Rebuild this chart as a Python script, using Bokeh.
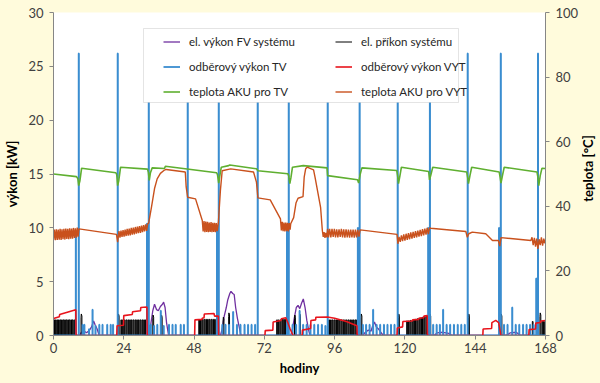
import math
from bokeh.plotting import figure
from bokeh.layouts import row
from bokeh.models import (Range1d, LinearAxis, FixedTicker, Legend, LegendItem,
                          BoxAnnotation, Label)
from bokeh.embed import file_html
from bokeh.resources import INLINE

# ---------------- data ----------------
hour_ticks = [0, 24, 48, 72, 96, 120, 144, 168]
kw_ticks = [0, 5, 10, 15, 20, 25, 30]
temp_ticks = [0, 20, 40, 60, 80, 100]

# odběrový výkon TV: spikes (hour, kW)
tv_peak = [(8.6, 26.2), (21.9, 26.2), (32.5, 26.2), (45.8, 26.2), (56.4, 26.2), (69.7, 26.2),
           (80.3, 26.2), (93.6, 26.2), (104.5, 26.2), (117.5, 26.2), (128.5, 26.2),
           (141.4, 26.2), (152.7, 26.2), (165.4, 26.2)]
tv_pair = [(7.6, 9.5), (31.9, 10.4), (55.8, 9.8), (79.7, 10.0), (103.9, 10.0),
           (127.9, 10.0), (152.1, 10.0), (164.8, 5.3)]
tv_small = [(9.9, 1.0), (10.5, 1.0), (12.1, 0.6), (13.3, 2.4), (14.3, 0.9), (15.6, 1.0),
            (16.7, 1.0), (18.3, 1.0), (19.5, 1.0), (20.3, 1.0),
            (33.2, 1.0), (34.3, 0.9), (35.4, 1.0), (36.6, 2.3), (37.6, 0.9), (39.4, 1.0),
            (40.6, 1.0), (41.7, 1.0), (43.4, 1.0), (44.5, 1.0),
            (57.6, 1.0), (58.7, 1.0), (59.9, 1.0), (61.3, 2.2), (62.6, 1.0), (63.8, 1.0),
            (65.2, 1.0), (66.4, 1.0), (67.6, 1.0), (68.8, 1.0),
            (81.6, 1.0), (82.8, 1.0), (84.0, 2.3), (85.2, 1.0), (86.4, 1.0), (87.7, 1.0),
            (89.0, 1.0), (90.3, 1.0), (91.6, 1.0), (92.8, 0.9),
            (105.6, 1.0), (106.7, 1.0), (107.9, 1.0), (109.1, 2.4), (110.3, 1.0), (111.5, 1.0),
            (112.8, 1.0), (114.0, 1.0), (115.2, 1.0), (116.4, 1.0),
            (129.6, 1.0), (130.8, 1.0), (131.9, 1.0), (133.0, 2.4), (134.2, 1.0), (135.4, 1.0),
            (136.7, 1.0), (138.0, 1.0), (139.2, 1.0), (140.4, 1.0),
            (153.8, 1.0), (155.0, 1.0), (156.6, 2.6), (157.8, 1.0), (159.0, 1.0), (160.3, 1.0),
            (161.5, 1.0), (162.7, 1.0), (163.9, 1.0)]

# odběrový výkon VYT (hour, kW)
vyt_power = [(0.0, 1.55), (0.3, 1.6), (2.0, 1.75), (2.1, 1.95), (7.6, 2.4), (7.7, 0.0),
             (21.6, 0.0), (21.7, 0.9), (23.9, 0.95), (24.0, 1.85), (26.9, 1.95), (27.0, 2.2),
             (29.7, 2.3), (29.8, 2.6), (31.9, 2.65), (32.0, 0.0),
             (48.2, 0.0), (48.3, 1.45), (50.7, 1.5), (50.8, 1.6), (51.4, 1.65), (51.5, 2.0),
             (54.8, 2.05), (55.0, 1.8), (56.3, 1.8), (56.4, 0.0),
             (72.2, 0.0), (72.3, 0.45), (74.9, 0.5), (75.0, 1.25), (77.7, 1.4), (77.8, 1.55),
             (79.3, 1.65), (80.0, 1.2), (80.8, 0.6), (81.8, 0.0),
             (84.9, 0.0), (85.0, 0.5), (87.8, 0.65), (87.9, 1.4), (89.5, 1.45), (89.6, 1.7),
             (93.5, 1.72), (96.0, 1.6), (100.0, 1.3), (103.6, 0.9), (103.7, 0.0),
             (117.3, 0.0), (117.4, 0.7), (119.2, 0.8), (119.3, 1.3), (122.5, 1.35), (122.6, 1.45),
             (124.7, 1.5), (124.8, 1.6), (126.4, 1.65), (126.5, 1.8), (127.6, 1.85), (127.7, 0.0),
             (146.6, 0.0), (146.7, 0.6), (149.6, 0.65), (149.7, 1.2), (151.0, 1.4), (152.0, 1.2),
             (152.6, 0.3), (152.7, 0.0),
             (162.3, 0.0), (162.4, 0.55), (164.6, 0.6), (164.7, 1.15), (166.3, 1.2), (166.4, 1.35),
             (168.0, 1.4)]

# el. výkon FV systému (hour, kW)
fv_power = [(0.0, 0.0), (9.0, 0.0), (9.5, 0.3), (10.5, 0.4), (11.3, 0.25), (12.3, 0.5), (13.0, 0.8),
            (13.7, 1.35), (14.2, 1.0), (14.9, 0.6), (15.6, 0.0),
            (32.8, 0.0), (33.3, 1.2), (33.9, 2.3), (34.5, 2.9), (35.2, 2.4), (35.8, 2.3), (36.5, 2.7),
            (37.2, 2.9), (37.6, 3.1), (38.1, 2.6), (38.6, 1.2), (39.3, 0.0),
            (57.0, 0.0), (57.6, 0.6), (58.3, 1.8), (59.0, 2.6), (59.5, 3.3), (60.2, 3.9), (60.6, 4.1),
            (61.2, 3.9), (61.7, 3.8), (62.2, 2.6), (62.8, 1.6), (63.4, 0.8), (64.0, 0.0),
            (81.0, 0.0), (81.6, 0.6), (82.2, 1.6), (82.9, 2.6), (83.5, 2.8), (84.1, 2.5), (84.7, 3.0),
            (85.3, 3.4), (85.9, 2.6), (86.5, 1.4), (87.2, 0.4), (87.6, 0.0),
            (105.5, 0.0), (106.5, 0.3), (107.5, 0.5), (108.4, 0.4), (109.0, 0.9), (109.6, 1.25),
            (110.2, 0.8), (111.0, 0.6), (111.8, 0.3), (112.6, 0.0),
            (130.0, 0.0), (131.0, 0.25), (133.0, 0.3), (135.0, 0.2), (136.0, 0.0),
            (154.5, 0.0), (156.0, 0.25), (158.0, 0.3), (159.5, 0.0), (168.0, 0.0)]

# el. příkon systému: compressor pulses (hour, kW) and start spikes (hour, kW)
black_pulse = [(0.1, 1.45), (0.65, 1.45), (1.15, 1.45), (1.7, 1.45), (2.2, 1.45), (2.75, 1.45),
               (3.25, 1.45), (3.8, 1.45), (4.3, 1.45), (4.85, 1.45), (5.35, 1.45), (5.9, 1.45),
               (6.4, 1.45), (6.95, 1.45), (7.45, 1.45),
               (23.0, 1.45), (23.6, 1.45), (24.2, 1.45), (24.8, 1.45), (25.4, 1.45), (26.0, 1.45),
               (26.6, 1.45), (27.2, 1.45), (27.8, 1.45), (28.4, 1.45), (29.0, 1.45), (29.6, 1.45),
               (30.2, 1.45), (30.8, 1.45), (31.4, 1.45),
               (49.6, 1.45), (50.2, 1.45), (50.8, 1.5), (51.4, 1.5), (52.0, 1.5), (52.6, 1.5),
               (53.2, 1.5), (53.8, 1.5), (54.4, 1.5), (55.0, 1.5), (55.6, 1.45),
               (76.2, 1.45), (76.8, 1.45), (77.4, 1.45), (78.0, 1.5), (78.6, 1.5), (79.2, 1.5),
               (79.8, 1.45),
               (94.0, 1.45), (94.6, 1.45), (95.2, 1.45), (95.8, 1.45), (96.4, 1.45), (97.0, 1.45),
               (97.6, 1.45), (98.2, 1.45), (98.8, 1.45), (99.4, 1.45), (100.0, 1.45),
               (100.6, 1.45), (101.2, 1.45), (101.8, 1.45), (102.4, 1.45), (103.0, 1.45),
               (103.5, 1.45),
               (120.6, 1.35), (121.2, 1.35), (121.8, 1.4), (122.4, 1.4), (123.0, 1.45),
               (123.6, 1.5), (124.2, 1.55), (124.8, 1.6), (125.4, 1.65), (126.0, 1.7),
               (126.6, 1.75), (127.2, 1.8),
               (163.5, 1.3), (166.8, 1.3), (167.3, 1.3), (167.8, 1.3)]
black_hook = [(9.4, 2.0), (22.1, 2.0), (33.9, 1.9), (36.8, 1.9), (57.9, 1.7), (59.8, 2.1),
              (82.3, 1.9), (84.0, 2.0), (105.0, 2.0), (117.8, 2.0), (128.5, 2.0), (141.7, 2.0),
              (152.8, 2.0), (166.1, 2.1)]

# teplota AKU pro TV (hour, °C)
tv_temp = [(0.0, 50.0), (7.8, 49.2), (8.3, 48.6), (8.6, 46.4), (9.0, 47.8), (9.6, 51.8),
           (21.3, 50.4), (21.6, 49.8), (21.9, 46.4), (22.3, 48.0), (22.9, 52.1),
           (32.1, 51.5), (32.4, 50.5), (32.7, 48.0), (33.1, 50.4), (33.7, 51.9), (37.9, 51.7),
           (38.2, 52.4), (55.7, 50.4), (56.0, 49.8), (56.4, 47.2), (56.8, 49.5), (57.3, 52.1),
           (59.8, 52.6), (60.2, 52.8), (69.3, 51.6), (69.8, 51.0), (80.0, 50.1), (80.3, 49.5),
           (80.7, 47.0), (81.1, 49.0), (81.6, 52.1), (85.3, 52.6), (93.4, 51.9), (93.6, 49.5),
           (103.8, 48.2), (104.2, 47.2), (104.7, 49.8), (105.3, 51.9), (117.2, 51.1),
           (117.5, 49.5), (117.8, 47.0), (118.3, 49.5), (118.8, 52.1), (128.1, 50.8),
           (128.4, 48.2), (128.8, 49.5), (129.5, 52.1), (141.1, 50.6), (141.4, 49.0),
           (141.7, 47.0), (142.2, 49.5), (142.8, 52.1), (152.2, 50.6), (152.5, 49.0),
           (152.8, 47.2), (153.3, 49.5), (153.9, 52.1), (165.1, 50.6), (165.4, 49.0),
           (165.7, 46.4), (166.2, 49.5), (166.8, 51.8), (168.0, 51.7)]

# teplota AKU pro VYT (hour, °C)
vyt_temp = [(0.0, 29.6), (0.3, 32.8), (0.65, 29.5), (0.95, 32.9), (1.3, 29.6), (1.6, 32.8),
            (1.95, 29.7), (2.25, 33.0), (2.6, 29.6), (2.9, 32.9), (3.25, 29.8), (3.55, 33.0),
            (3.9, 29.7), (4.2, 33.1), (4.55, 29.9), (4.85, 33.0), (5.2, 29.8), (5.5, 33.2),
            (5.85, 30.0), (6.15, 33.1), (6.5, 30.0), (6.8, 33.3), (7.15, 30.2), (7.45, 33.2),
            (7.8, 30.3), (8.1, 33.4), (8.4, 30.6), (8.7, 33.0),
            (21.5, 31.3), (21.9, 28.9), (22.35, 32.3), (22.7, 30.3), (23.05, 32.5), (23.4, 30.5),
            (23.75, 32.6), (24.1, 30.6), (24.45, 32.8), (24.8, 30.8), (25.15, 33.0), (25.5, 30.9),
            (25.85, 33.1), (26.2, 31.0), (26.55, 33.3), (26.9, 31.2), (27.25, 33.4), (27.6, 31.3),
            (27.95, 33.6), (28.3, 31.5), (28.65, 33.7), (29.0, 31.7), (29.35, 33.9), (29.7, 31.8),
            (30.05, 34.0), (30.4, 32.0), (30.75, 34.2), (31.1, 32.2), (31.45, 34.4), (31.8, 32.4),
            (32.15, 34.6), (32.5, 34.8), (33.5, 40.0), (34.5, 45.5), (35.4, 48.5), (36.5, 50.2),
            (37.7, 51.1), (38.5, 51.4), (45.0, 50.6), (45.3, 46.0), (45.8, 42.8), (48.5, 42.3),
            (50.8, 35.6), (51.1, 32.2), (51.4, 35.4), (51.7, 32.0), (52.0, 35.3), (52.3, 32.1),
            (52.6, 35.2), (52.9, 32.0), (53.2, 35.0), (53.5, 32.1), (53.8, 35.1), (54.1, 32.0),
            (54.4, 34.9), (54.7, 32.1), (55.0, 34.9), (55.3, 32.0), (55.6, 34.8), (55.9, 32.3),
            (56.3, 35.0), (57.0, 45.0), (57.6, 51.0), (60.5, 51.6), (68.3, 50.6), (69.3, 47.5),
            (69.8, 42.6), (74.0, 42.0), (77.5, 36.1), (77.8, 32.5), (78.1, 35.2), (78.4, 32.3),
            (78.7, 35.0), (79.0, 32.2), (79.3, 35.0), (79.6, 32.3), (79.9, 34.9), (80.2, 32.2),
            (80.5, 34.8), (80.8, 32.8), (81.0, 34.6), (82.0, 36.5), (82.8, 41.0), (83.5, 42.5),
            (85.2, 43.0), (85.6, 49.0), (86.1, 51.6), (86.6, 52.1), (88.8, 51.3), (89.3, 49.0),
            (91.2, 39.7), (91.8, 32.5), (92.1, 30.5), (92.4, 32.0), (92.7, 30.2), (93.0, 31.8),
            (93.3, 30.4), (93.6, 33.0), (93.9, 30.4), (94.3, 33.0), (94.7, 30.4), (95.1, 33.0),
            (95.5, 30.5), (95.9, 33.0), (96.3, 30.4), (96.7, 32.9), (97.1, 30.4), (97.5, 32.9),
            (97.9, 30.5), (98.3, 33.0), (98.7, 30.4), (99.1, 32.9), (99.5, 30.3), (99.9, 32.9),
            (100.3, 30.4), (100.7, 32.8), (101.1, 30.3), (101.5, 32.8), (101.9, 30.4),
            (102.3, 32.8), (102.7, 30.3), (103.1, 32.8), (103.5, 30.4), (103.9, 32.7),
            (104.3, 30.6), (104.7, 32.7), (117.3, 31.3), (117.6, 28.4), (118.0, 30.5),
            (118.4, 29.0), (118.8, 31.0), (119.2, 29.2), (119.6, 31.3), (120.0, 29.4),
            (120.4, 31.5), (120.8, 29.6), (121.2, 31.7), (121.6, 29.8), (122.0, 31.9),
            (122.4, 30.0), (122.8, 32.1), (123.2, 30.2), (123.6, 32.3), (124.0, 30.4),
            (124.4, 32.5), (124.8, 30.6), (125.2, 32.7), (125.6, 30.8), (126.0, 32.9),
            (126.4, 31.0), (126.8, 33.1), (127.2, 31.2), (127.6, 33.3), (128.0, 31.4),
            (128.4, 33.3), (128.8, 33.2), (140.8, 32.2), (141.3, 30.4), (141.8, 31.5),
            (143.0, 32.0), (147.6, 31.5), (149.9, 29.4), (151.9, 29.4), (152.4, 27.7),
            (152.8, 30.3), (163.0, 29.4), (163.4, 30.4), (163.8, 28.0), (164.2, 30.2),
            (164.6, 27.5), (165.0, 30.0), (165.4, 26.8), (165.8, 29.8), (166.2, 28.0),
            (166.6, 30.4), (167.0, 27.8), (167.4, 30.0), (167.8, 28.5), (168.0, 29.6)]

legend_labels = ["el. výkon FV systému", "el. příkon systému",
                 "odběrový výkon TV", "odběrový výkon VYT",
                 "teplota AKU pro TV", "teplota AKU pro VYT"]
right_title = "teplota [°C]"

# ---------------- helpers ----------------
def unzip(pairs):
    return [a for a, _ in pairs], [b for _, b in pairs]

def spike_path(events, w=0.08):
    xs, ys = [0.0], [0.0]
    for t, h in sorted(events):
        xs += [t, t, t + w, t + w]
        ys += [0.0, h, h, 0.0]
    xs.append(168.0); ys.append(0.0)
    return xs, ys

def black_path(pulses, hooks, w=0.25):
    ev = []
    for t, h in pulses:
        ev.append((t, [(t, 0.0), (t, h), (t + w, h), (t + w, 0.0)]))
    for t, h in hooks:
        ev.append((t, [(t, 0.0), (t, h - 0.35), (t + 0.1, h), (t + 0.3, h - 0.2), (t + 0.32, 0.0)]))
    ev.sort(key=lambda e: e[0])
    xs, ys = [0.0], [0.0]
    for _, pts in ev:
        for a, b in pts:
            xs.append(a); ys.append(b)
    xs.append(168.0); ys.append(0.0)
    return xs, ys

# ---------------- figure ----------------
BG = "#FFFBDC"
FONT = "Lato"
AXC = "#868686"
TXT = "#404040"
FW, FH = 492, 323
TOTAL_W, TOTAL_H = 600, 383
LEFT, RIGHT, TOP = 53, 35, 12
BOTTOM = TOTAL_H - TOP - FH

p = figure(frame_width=FW, frame_height=FH, output_backend="svg", toolbar_location=None,
           x_range=Range1d(0, 168), y_range=Range1d(0, 30),
           min_border_left=LEFT, min_border_right=RIGHT, min_border_top=TOP,
           min_border_bottom=BOTTOM)
p.extra_y_ranges = {"temp": Range1d(0, 100)}
p.background_fill_color = "white"
p.border_fill_color = BG
p.outline_line_color = None
p.xgrid.visible = False
p.ygrid.visible = False

right_axis = LinearAxis(y_range_name="temp")
p.add_layout(right_axis, "right")

for ax in [p.xaxis[0], p.yaxis[0], right_axis]:
    ax.axis_line_color = AXC
    ax.major_tick_line_color = AXC
    ax.minor_tick_line_color = None
    ax.major_tick_in = 0
    ax.major_tick_out = 4
    ax.major_label_text_font = FONT
    ax.major_label_text_font_size = "13px"
    ax.major_label_text_color = TXT
    ax.major_label_standoff = 6
    ax.axis_label_text_font = FONT
    ax.axis_label_text_font_style = "bold"
    ax.axis_label_text_font_size = "13px"
    ax.axis_label_text_color = "#000000"
    ax.axis_label_standoff = 5

p.xaxis.ticker = FixedTicker(ticks=hour_ticks)
p.yaxis[0].ticker = FixedTicker(ticks=kw_ticks)
right_axis.ticker = FixedTicker(ticks=temp_ticks)
p.xaxis.axis_label = "hodiny"
p.xaxis.axis_label_standoff = 4
p.xaxis.major_label_standoff = 3
p.yaxis[0].axis_label = "výkon [kW]"
right_axis.major_label_standoff = 6

# series (drawing order as in the original: FV, příkon, TV, VYT, temps)
fx, fy = unzip(fv_power)
r_fv = p.line(fx, fy, color="#7030A0", line_width=1.3)
bx, by = black_path(black_pulse, black_hook)
r_el = p.line(bx, by, color="#000000", line_width=1.0)
tx, ty = spike_path(tv_peak + tv_pair + tv_small)
r_tv = p.line(tx, ty, color="#3A8DD0", line_width=1.8)
vx, vy = unzip(vyt_power)
r_vyt = p.line(vx, vy, color="#E8141C", line_width=1.6)
gx, gy = unzip(tv_temp)
r_ttv = p.line(gx, gy, color="#5FAF30", line_width=1.6, y_range_name="temp")
ox, oy = unzip(vyt_temp)
r_tvyt = p.line(ox, oy, color="#C9511D", line_width=1.4, y_range_name="temp")

# legend box + two legend columns
box = BoxAnnotation(left=90, right=405, top=FH - 16, bottom=FH - 90,
                    left_units="screen", right_units="screen",
                    top_units="screen", bottom_units="screen",
                    fill_color="white", fill_alpha=1.0,
                    line_color="#A6A6A6", line_width=1)
p.add_layout(box)

def make_legend(items, x):
    return Legend(items=items, location=(x, FH - 89), orientation="vertical",
                  padding=0, margin=0, spacing=6, glyph_width=17, glyph_height=19,
                  label_height=19, label_standoff=9,
                  label_text_font=FONT, label_text_font_size="11.5px",
                  label_text_color="#262626",
                  border_line_alpha=0, background_fill_alpha=0)

leg1 = make_legend([LegendItem(label=legend_labels[0], renderers=[r_fv]),
                    LegendItem(label=legend_labels[2], renderers=[r_tv]),
                    LegendItem(label=legend_labels[4], renderers=[r_ttv])], 110)
leg2 = make_legend([LegendItem(label=legend_labels[1], renderers=[r_el]),
                    LegendItem(label=legend_labels[3], renderers=[r_vyt]),
                    LegendItem(label=legend_labels[5], renderers=[r_tvyt])], 282)
p.add_layout(leg1)
p.add_layout(leg2)

# narrow strip on the right carrying the right-axis title (reads bottom-to-top)
STRIP_W = TOTAL_W - (LEFT + FW + RIGHT)
q = figure(width=STRIP_W, height=TOTAL_H, output_backend="svg", toolbar_location=None,
           x_axis_location=None, y_axis_location=None,
           min_border_left=0, min_border_right=0, min_border_top=0, min_border_bottom=0,
           x_range=Range1d(0, 1), y_range=Range1d(0, 1))
q.background_fill_color = BG
q.border_fill_color = BG
q.outline_line_color = None
q.grid.visible = False
q.add_layout(Label(x=6, y=167, x_units="screen", y_units="screen",
                   angle=math.pi / 2, text=right_title, text_align="center",
                   text_baseline="middle", text_font=FONT, text_font_style="bold",
                   text_font_size="13px", text_color="#000000"))

layout = row(p, q, spacing=0)
html = file_html(layout, INLINE)
html = html.replace("<head>", "<head><style>html,body{background:%s;margin:0;}</style>" % BG, 1)
open("out.html", "w").write(html)
